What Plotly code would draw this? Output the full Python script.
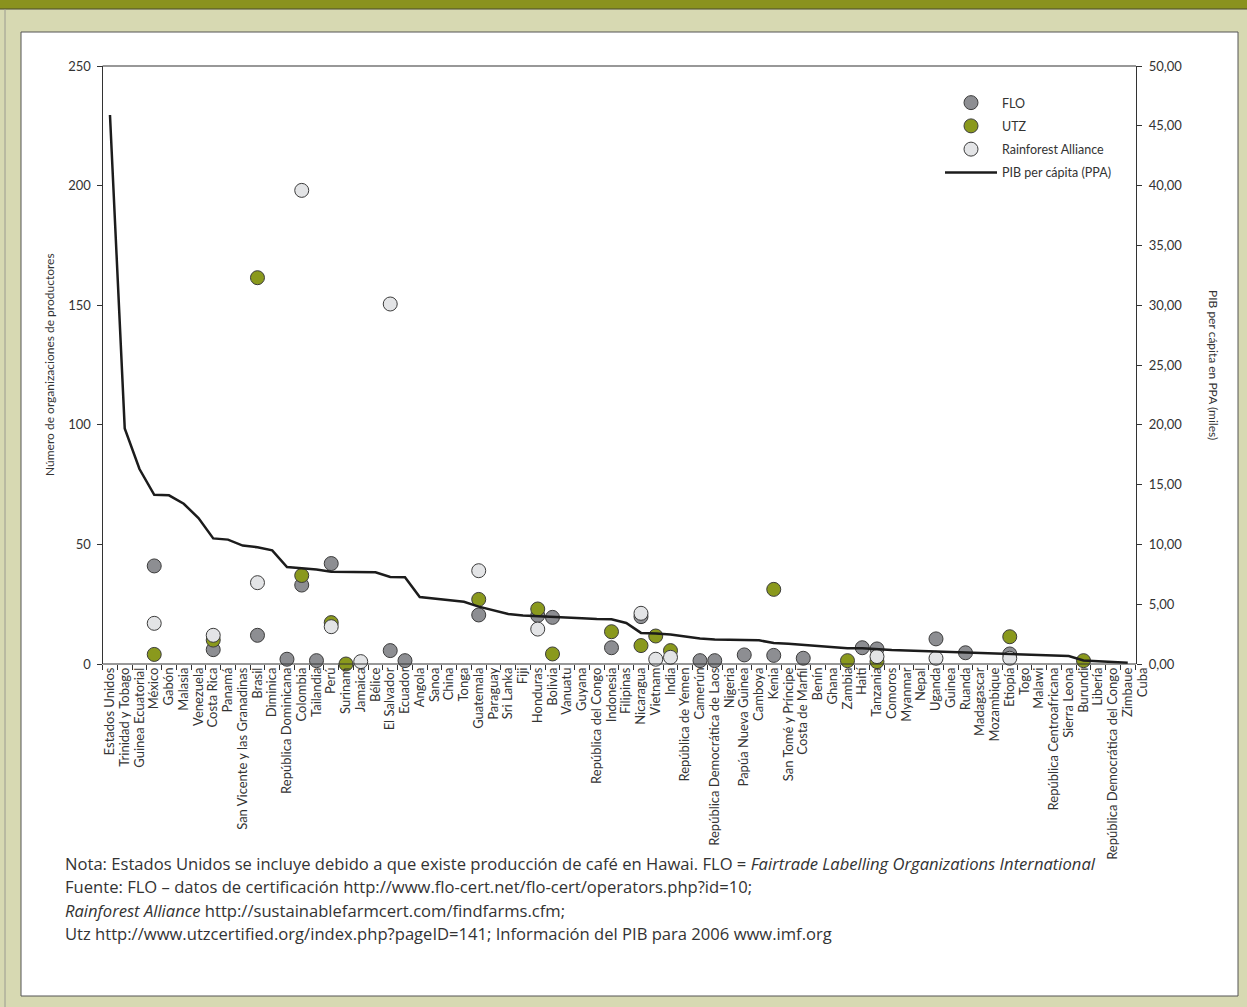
import plotly.graph_objects as go

paises = ["Estados Unidos", "Trinidad y Tobago", "Guinea Ecuatorial", "México", "Gabón", "Malasia",
          "Venezuela", "Costa Rica", "Panamá", "San Vicente y las Granadinas", "Brasil", "Diminica",
          "República Dominicana", "Colombia", "Tailandia", "Perú", "Surinam", "Jamaica", "Bélice",
          "El Salvador", "Ecuador", "Angola", "Sanoa", "China", "Tonga", "Guatemala", "Paraguay",
          "Sri Lanka", "Fiji", "Honduras", "Bolivia", "Vanuatu", "Guyana", "República del Congo",
          "Indonesia", "Filipinas", "Nicaragua", "Vietnam", "India", "República de Yemen", "Camerún",
          "República Democrática de Laos", "Nigeria", "Papúa Nueva Guinea", "Camboya", "Kenia",
          "San Tomé y Príncipe", "Costa de Marfil", "Benín", "Ghana", "Zambia", "Haití", "Tanzania",
          "Comoros", "Myanmar", "Nepal", "Uganda", "Guinea", "Ruanda", "Madagascar", "Mozambique",
          "Etiopía", "Togo", "Malawi", "República Centroafricana", "Sierra Leona", "Burundi", "Libería",
          "República Democrática del Congo", "Zimbaue", "Cuba"]

# PIB per cápita (PPA), miles
pib = [45.9, 19.7, 16.3, 14.15, 14.1, 13.4, 12.2, 10.5, 10.4, 9.9, 9.76, 9.5,
       8.1, 8.0, 7.9, 7.72, 7.7, 7.7, 7.67, 7.27, 7.25, 5.6, 5.48, 5.35, 5.2, 4.8, 4.5,
       4.18, 4.05, 4.0, 3.98, 3.9, 3.83, 3.76, 3.74, 3.43, 2.6, 2.55, 2.47, 2.3, 2.13,
       2.05, 2.0, 2.0, 1.98, 1.76, 1.7, 1.6, 1.5, 1.42, 1.31, 1.31, 1.22,
       1.17, 1.13, 1.09, 1.05, 1.0, 0.95, 0.92, 0.88,
       0.84, 0.8, 0.75, 0.73, 0.67, 0.3, 0.25,
       0.21, 0.11, None]

flo = {"México": 41, "Costa Rica": 6, "Brasil": 12, "República Dominicana": 2, "Colombia": 33,
       "Tailandia": 1.4, "Perú": 42, "El Salvador": 5.6, "Ecuador": 1.4, "Guatemala": 20.5,
       "Honduras": 20.3, "Bolivia": 19.5, "Indonesia": 6.8, "Nicaragua": 19.8, "Camerún": 1.4,
       "República Democrática de Laos": 1.4, "Papúa Nueva Guinea": 3.8, "Kenia": 3.6,
       "Costa de Marfil": 2.4, "Haití": 6.8, "Tanzania": 6.3, "Uganda": 10.5, "Ruanda": 4.7,
       "Etiopía": 4.2}

utz = {"México": 4, "Costa Rica": 10, "Brasil": 161.5, "Colombia": 37, "Perú": 17.3, "Surinam": 0,
       "Guatemala": 27, "Honduras": 23, "Bolivia": 4.2, "Indonesia": 13.5, "Nicaragua": 7.7,
       "Vietnam": 11.7, "India": 5.6, "Kenia": 31.2, "Zambia": 1.4, "Tanzania": 1.0,
       "Etiopía": 11.4, "Burundi": 1.4}

rainforest = {"México": 17, "Costa Rica": 12, "Brasil": 34, "Colombia": 198, "Perú": 15.6,
              "Jamaica": 1, "El Salvador": 150.5, "Guatemala": 39, "Honduras": 14.6,
              "Nicaragua": 21.2, "Vietnam": 2.0, "India": 2.8, "Tanzania": 3.1, "Uganda": 2.4,
              "Etiopía": 2.4}

W, H = 1247, 1007
def px(x): return x / W
def py(y): return 1 - y / H

FONT = "Lato"
TXT = "#333333"
EDGE = "#3c3c3c"

fig = go.Figure()

fig.add_trace(go.Scatter(x=paises, y=pib, mode="lines", name="PIB per cápita (PPA)",
                         line=dict(color="#1c1c1c", width=2.5), yaxis="y2",
                         legendrank=4, legendgroup="d", connectgaps=False))

def series(d, name, color, rank, grp):
    xs = list(d.keys())
    ys = list(d.values())
    fig.add_trace(go.Scatter(x=xs, y=ys, mode="markers", name=name, legendrank=rank,
                             legendgroup=grp,
                             marker=dict(size=14, color=color, line=dict(color=EDGE, width=1)),
                             cliponaxis=False))

series(flo, "FLO", "#8d8e92", 1, "a")
series(utz, "UTZ", "#8a991d", 2, "b")
series(rainforest, "Rainforest Alliance", "#e3e4e6", 3, "c")

x0, x_right, x_end = 102.6, 1136.0, 1148.4
y_top, y_bot = 66, 664

shapes = [
    dict(type="rect", xref="paper", yref="paper", x0=0, x1=1, y0=py(9), y1=1,
         fillcolor="#8a921e", line=dict(width=0), layer="below"),
    dict(type="line", xref="paper", yref="paper", x0=0, x1=1, y0=py(9), y1=py(9),
         line=dict(color="#4a4a30", width=1)),
    dict(type="line", xref="paper", yref="paper", x0=px(5), x1=px(5), y0=0, y1=py(9),
         line=dict(color="#9a9a90", width=1)),
    dict(type="rect", xref="paper", yref="paper", x0=px(21), x1=px(1238), y0=py(996), y1=py(32),
         fillcolor="white", line=dict(color="#555555", width=1), layer="below"),
    dict(type="line", xref="paper", yref="paper", x0=px(x0), x1=px(x_right), y0=py(y_top), y1=py(y_top),
         line=dict(color="#333333", width=1.2)),
    dict(type="line", xref="paper", yref="paper", x0=px(x0), x1=px(x_right), y0=py(y_bot), y1=py(y_bot),
         line=dict(color="#333333", width=1.2)),
]

annotations = [
    dict(text="Número de organizaciones de productores", x=px(50), y=py(365), xref="paper", yref="paper",
         xanchor="center", yanchor="middle",
         textangle=-90, showarrow=False, font=dict(family=FONT, size=12, color=TXT)),
    dict(text="PIB per cápita en PPA (miles)", x=px(1213), y=py(365), xref="paper", yref="paper",
         xanchor="center", yanchor="middle",
         textangle=90, showarrow=False, font=dict(family=FONT, size=12, color=TXT)),
]
notas = [
    "Nota: Estados Unidos se incluye debido a que existe producción de café en Hawai. FLO = <i>Fairtrade Labelling Organizations International</i>",
    "Fuente: FLO – datos de certificación http://www.flo-cert.net/flo-cert/operators.php?id=10;",
    "<i>Rainforest Alliance</i> http://sustainablefarmcert.com/findfarms.cfm;",
    "Utz http://www.utzcertified.org/index.php?pageID=141; Información del PIB para 2006 www.imf.org",
]
for i, t in enumerate(notas):
    annotations.append(dict(text=t, x=px(63), y=py(863 + i * 23.5), xref="paper", yref="paper",
                            xanchor="left", yanchor="middle", showarrow=False, align="left",
                            font=dict(family="Open Sans", size=16.6, color=TXT)))

fig.update_layout(
    width=W, height=H, margin=dict(l=0, r=0, t=0, b=0, pad=0, autoexpand=False),
    paper_bgcolor="#d7d9b2", plot_bgcolor="rgba(0,0,0,0)",
    separators=",.",
    font=dict(family=FONT, size=12, color=TXT),
    showlegend=True,
    legend=dict(x=px(940), y=py(88), xanchor="left", yanchor="top", bgcolor="rgba(0,0,0,0)",
                font=dict(family=FONT, size=12.5, color=TXT), tracegroupgap=4, itemwidth=52),
    xaxis=dict(domain=[px(x0), px(x_end)], type="category", categoryorder="array",
               categoryarray=paises, range=[-0.5, 70.4], showline=False, showgrid=False,
               zeroline=False, ticks="outside", ticklen=5, tickcolor="#333333", tickson="boundaries",
               tickmode="linear", tick0=0, dtick=1, automargin=False,
               tickangle=-90, tickfont=dict(family=FONT, size=13, color=TXT), fixedrange=True),
    yaxis=dict(domain=[py(y_bot), py(y_top)], range=[0, 250], dtick=50, showline=True,
               linecolor="#333333", linewidth=1.2, showgrid=False, zeroline=False, automargin=False,
               ticks="outside", ticklen=5, tickcolor="#333333", ticklabelstandoff=3,
               tickfont=dict(family=FONT, size=13, color=TXT)),
    yaxis2=dict(overlaying="y", side="right", anchor="free", position=px(x_right), range=[0, 50],
                dtick=5, tickformat=".2f", showline=True, linecolor="#333333", linewidth=1.2,
                showgrid=False, zeroline=False, ticks="outside", ticklen=5, tickcolor="#333333",
                automargin=False, ticklabelstandoff=4, tickfont=dict(family=FONT, size=13, color=TXT)),
    shapes=shapes, annotations=annotations,
)

fig.write_html("out.html", config={"displayModeBar": False},
               post_script=("document.documentElement.style.margin='0';"
                            "document.body.style.margin='0';document.body.style.padding='0';"
                            "document.body.style.overflow='hidden';"
                            "document.documentElement.style.overflow='hidden';"
                            "var gd=document.querySelector('.plotly-graph-div');"
                            "gd.style.position='absolute';gd.style.top='0';gd.style.left='0';"))
